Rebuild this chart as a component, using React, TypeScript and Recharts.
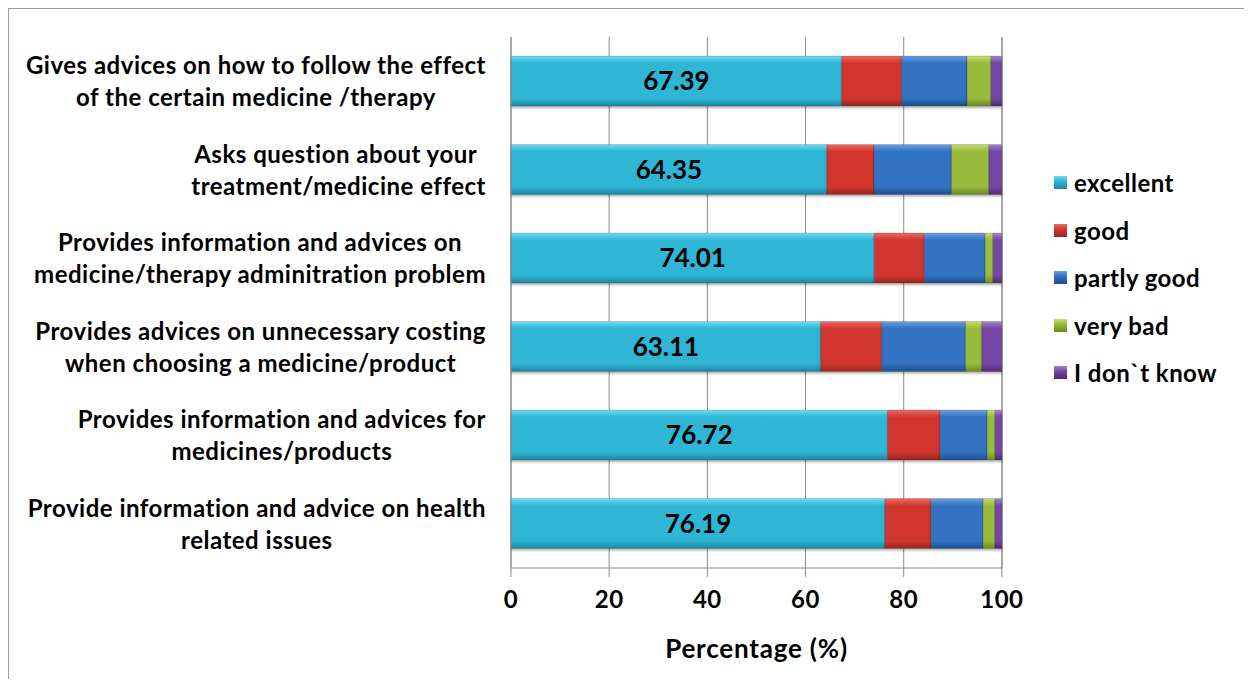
import { BarChart, Bar, XAxis, YAxis, CartesianGrid, Legend, LabelList } from 'recharts';

// statements rated by respondents (two lines each, split on \n)
const statements = [
  'Gives advices on how to follow the effect\nof the certain medicine /therapy',
  'Asks question about your \ntreatment/medicine effect',
  'Provides information and advices on\nmedicine/therapy adminitration problem',
  'Provides advices on unnecessary costing\nwhen choosing a medicine/product',
  'Provides information and advices for\nmedicines/products',
  'Provide information and advice on health\nrelated issues',
];

const excellent = [67.39, 64.35, 74.01, 63.11, 76.72, 76.19];
const good = [12.2, 9.6, 10.2, 12.4, 10.7, 9.4];
const partlyGood = [13.3, 15.8, 12.4, 17.1, 9.6, 10.6];
const veryBad = [4.9, 7.6, 1.6, 3.3, 1.6, 2.4];
const dontKnow = [2.2, 2.65, 1.8, 4.1, 1.4, 1.4];

const xTicks = [0, 20, 40, 60, 80, 100];

const series = [
  { key: 'excellent', name: 'excellent', light: '#6fdcf2', base: '#2fb6d4', dark: '#1b87a3' },
  { key: 'good', name: 'good', light: '#ec6a64', base: '#d2362f', dark: '#9c2521' },
  { key: 'partlyGood', name: 'partly good', light: '#6c9fe0', base: '#3173c4', dark: '#204f8c' },
  { key: 'veryBad', name: 'very bad', light: '#c5de6c', base: '#98bb3a', dark: '#6c8a23' },
  { key: 'dontKnow', name: 'I don`t know', light: '#a583cf', base: '#7447a5', dark: '#4e2c75' },
];

const data = statements.map((statement, i) => ({
  statement,
  excellent: excellent[i],
  good: good[i],
  partlyGood: partlyGood[i],
  veryBad: veryBad[i],
  dontKnow: dontKnow[i],
}));

const FONT = 'Lato, "Open Sans", sans-serif';

function StatementTick({ x, y, payload }: any) {
  const lines: string[] = String(payload.value).split('\n');
  return (
    <foreignObject x={x - 490} y={y - 40} width={490} height={80}>
      <div
        style={{
          display: 'flex',
          justifyContent: 'flex-end',
          alignItems: 'center',
          height: '100%',
        }}
      >
        <div
          style={{
            textAlign: 'center',
            fontFamily: FONT,
            fontWeight: 700,
            fontSize: 24,
            letterSpacing: 0.5,
            lineHeight: '32px',
            whiteSpace: 'pre',
            color: '#000',
          }}
        >
          {lines.map((line) => (
            <div key={line}>{line}</div>
          ))}
        </div>
      </div>
    </foreignObject>
  );
}

function LegendList() {
  return (
    <div style={{ paddingLeft: 52, fontFamily: FONT, fontWeight: 700, fontSize: 24, letterSpacing: 0.45 }}>
      {series.map((s) => (
        <div key={s.key} style={{ display: 'flex', alignItems: 'center', height: 47.5 }}>
          <span
            style={{
              display: 'inline-block',
              width: 13,
              height: 13,
              marginRight: 7,
              background: `linear-gradient(${s.light}, ${s.base} 40%, ${s.dark})`,
            }}
          />
          <span style={{ color: '#000', whiteSpace: 'nowrap' }}>{s.name}</span>
        </div>
      ))}
    </div>
  );
}

export default function App() {
  return (
    <div
      style={{
        width: 1244,
        height: 670,
        borderLeft: '1px solid #9a9a9a',
        borderTop: '1px solid #9a9a9a',
        background: '#fff',
        overflow: 'hidden',
      }}
    >
      <BarChart
        width={1243}
        height={669}
        data={data}
        layout="vertical"
        margin={{ top: 28, right: 20, bottom: 20, left: 0 }}
      >
        <defs>
          {series.map((s) => (
            <linearGradient key={s.key} id={`fill-${s.key}`} x1="0" y1="0" x2="0" y2="1">
              <stop offset="0%" stopColor={s.light} />
              <stop offset="14%" stopColor={s.base} />
              <stop offset="84%" stopColor={s.base} />
              <stop offset="100%" stopColor={s.dark} />
            </linearGradient>
          ))}
          <filter id="barShadow" x="-5%" y="-20%" width="110%" height="150%">
            <feDropShadow dx="0" dy="2" stdDeviation="1.2" floodColor="#000" floodOpacity="0.3" />
          </filter>
        </defs>
        <CartesianGrid horizontal={false} stroke="#8a8a8a" />
        <XAxis
          type="number"
          domain={[0, 100]}
          ticks={xTicks}
          interval={0}
          stroke="#8a8a8a"
          tickSize={9}
          tickMargin={14}
          height={90}
          tick={{ fill: '#000', fontFamily: FONT, fontWeight: 700, fontSize: 24, letterSpacing: 0.5 }}
          label={{
            value: 'Percentage (%)',
            position: 'insideBottom',
            offset: 0,
            fill: '#000',
            fontFamily: FONT,
            fontWeight: 700,
            fontSize: 26,
            letterSpacing: 0.8,
          }}
        />
        <YAxis
          type="category"
          dataKey="statement"
          width={502}
          stroke="#8a8a8a"
          tickLine={false}
          tickSize={0}
          tickMargin={25}
          tick={<StatementTick />}
        />
        <Legend
          layout="vertical"
          align="right"
          verticalAlign="top"
          width={230}
          wrapperStyle={{ top: 150 }}
          content={<LegendList />}
        />
        {series.map((s) => (
          <Bar
            key={s.key}
            dataKey={s.key}
            name={s.name}
            stackId="rating"
            barSize={50}
            fill={`url(#fill-${s.key})`}
            stroke="rgba(0,0,0,0.18)"
            strokeWidth={0.8}
            filter="url(#barShadow)"
            isAnimationActive={false}
          >
            {s.key === 'excellent' && (
              <LabelList
                dataKey="excellent"
                position="center"
                fill="#000"
                fontFamily={FONT}
                fontWeight={700}
                fontSize={26}
              />
            )}
          </Bar>
        ))}
      </BarChart>
    </div>
  );
}
